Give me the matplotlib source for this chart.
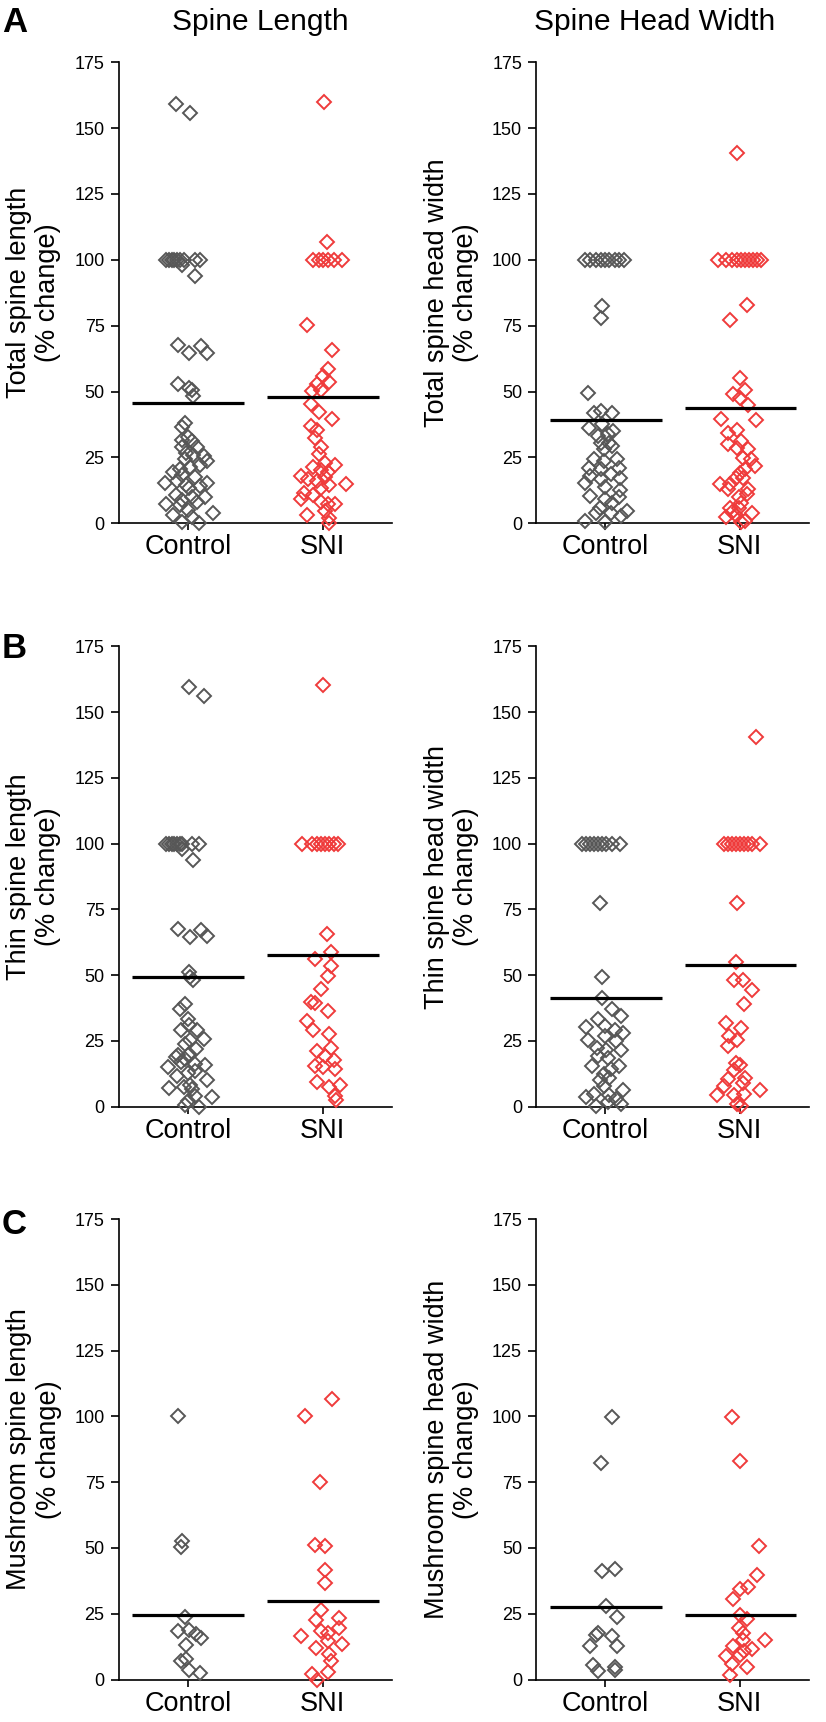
import numpy as np
import matplotlib
matplotlib.use('Agg')
import matplotlib.pyplot as plt

plt.rcParams['font.family'] = ['Liberation Sans', 'DejaVu Sans']

groups = ['Control', 'SNI']
col_titles = ['Spine Length', 'Spine Head Width']
panel_letters = ['A', 'B', 'C']
y_labels = [['Total spine length\n(% change)', 'Total spine head width\n(% change)'],
            ['Thin spine length\n(% change)', 'Thin spine head width\n(% change)'],
            ['Mushroom spine length\n(% change)', 'Mushroom spine head width\n(% change)']]
y_ticks = [0, 25, 50, 75, 100, 125, 150, 175]

# values (% change) and horizontal scatter offsets
# --- A: total spine length
tot_len_ctrl_y = [159.0, 155.6, 100, 100, 100, 100, 100, 100, 100, 100, 100, 98.0, 93.7,
                  67.5, 64.8, 67.1, 64.8, 52.8, 51.5, 50.5, 48.4, 38.0, 36.7, 32.9, 31.6,
                  31.3, 28.9, 28.9, 26.8, 25.9, 25.5, 23.5, 24.5, 19.4, 20.7, 21.4, 22.1,
                  18.3, 17.4, 15.3, 16.0, 14.6, 15.3, 13.3, 14.0, 10.6, 9.9, 9.9, 8.8, 7.9,
                  7.2, 6.8, 5.2, 3.8, 3.1, 2.4, 0.4, 0.0]
tot_len_ctrl_dx = [-0.09, 0.02, -0.16, -0.14, -0.12, -0.10, -0.08, -0.06, -0.03, 0.05, 0.09,
                   -0.04, 0.05, -0.07, 0.01, 0.10, 0.14, -0.07, 0.01, 0.03, 0.04, -0.02, -0.04,
                   0.00, -0.04, 0.03, -0.04, 0.07, -0.01, 0.04, 0.12, 0.14, -0.02, -0.11, -0.06,
                   0.02, 0.09, -0.04, 0.05, -0.17, -0.08, -0.01, 0.14, 0.01, 0.09, -0.09, 0.03,
                   0.13, -0.04, 0.07, -0.16, -0.06, 0.00, 0.19, -0.11, 0.03, -0.04, 0.08]
tot_len_sni_y = [160.1, 106.6, 100, 100, 100, 100, 100, 100, 75.2, 65.7, 58.5, 56.0, 53.5,
                 52.8, 50.3, 50.5, 45.2, 42.1, 39.5, 37.0, 35.4, 32.3, 28.9, 26.2, 22.8, 22.1,
                 21.4, 20.1, 19.4, 18.0, 16.7, 17.4, 16.0, 14.9, 14.6, 13.3, 11.3, 10.6, 9.2,
                 7.9, 7.2, 7.2, 3.1, 4.5, 1.8, 0.0]
tot_len_sni_dx = [0.01, 0.03, -0.07, -0.03, 0.00, 0.04, 0.08, 0.14, -0.12, 0.07, 0.04, 0.00,
                  0.05, -0.04, -0.08, -0.01, -0.09, -0.03, 0.07, -0.09, -0.04, -0.06, -0.01,
                  -0.03, 0.02, 0.09, -0.07, -0.01, 0.04, -0.16, -0.11, 0.02, -0.04, 0.17, 0.05,
                  -0.01, -0.14, -0.07, -0.16, -0.01, 0.09, 0.04, -0.12, 0.02, 0.05, 0.05]
tot_len_means = [45.5, 48.1]

# --- A: total spine head width
tot_wid_ctrl_y = [100, 100, 100, 100, 100, 100, 100, 100, 100, 82.3, 77.9, 49.6, 42.0, 42.6,
                  42.0, 36.3, 37.6, 35.0, 33.1, 33.8, 30.6, 30.6, 28.1, 29.3, 24.3, 23.6, 24.3,
                  21.1, 20.5, 21.1, 18.6, 17.9, 16.7, 17.3, 15.2, 13.8, 12.5, 10.4, 9.1, 9.8,
                  7.7, 5.7, 4.6, 3.7, 3.7, 2.6, 0.9, 0.3]
tot_wid_ctrl_dx = [-0.15, -0.11, -0.07, -0.03, 0.00, 0.03, 0.07, 0.10, 0.14, -0.02, -0.03,
                   -0.13, -0.08, -0.03, 0.05, -0.12, -0.02, 0.06, -0.05, 0.02, 0.03, -0.03,
                   -0.01, 0.05, -0.08, -0.01, 0.09, -0.12, -0.03, 0.10, 0.04, -0.11, -0.03,
                   0.11, -0.15, 0.00, 0.11, -0.11, 0.00, 0.10, 0.05, -0.04, 0.16, 0.04, -0.07,
                   0.12, -0.15, 0.00]
tot_wid_sni_y = [140.7, 100, 100, 100, 100, 100, 100, 100, 100, 100, 100, 82.8, 77.3, 55.3,
                 50.5, 49.0, 47.7, 44.9, 39.7, 39.1, 34.1, 35.3, 31.2, 30.0, 28.1, 28.7, 24.9,
                 24.3, 21.7, 19.2, 20.5, 17.3, 17.3, 14.8, 14.8, 12.9, 12.9, 11.1, 9.8, 7.7,
                 5.7, 5.7, 3.7, 2.3, 3.0, 4.3, 0.9, 0.3]
tot_wid_sni_dx = [-0.02, -0.16, -0.10, -0.06, -0.02, 0.01, 0.04, 0.07, 0.10, 0.13, 0.16, 0.05,
                  -0.07, 0.00, 0.04, -0.05, 0.00, 0.06, -0.14, 0.12, -0.09, -0.02, 0.01, -0.09,
                  0.06, -0.02, 0.02, 0.08, 0.11, 0.00, 0.04, 0.02, -0.03, -0.15, -0.07, -0.09,
                  0.06, 0.05, -0.01, 0.01, -0.07, -0.01, 0.09, -0.10, -0.03, -0.06, 0.04, 0.01]
tot_wid_means = [39.2, 43.9]

# --- B: thin spine length
thin_len_ctrl_y = [159.4, 156.0, 100, 100, 100, 100, 100, 100, 100, 100, 100, 98.1, 93.8,
                   67.7, 64.5, 67.3, 64.9, 51.2, 49.5, 48.2, 39.2, 37.3, 33.5, 31.0, 29.1,
                   29.1, 25.3, 25.9, 24.0, 22.1, 19.6, 20.2, 18.9, 18.3, 15.1, 15.8, 16.4,
                   17.0, 11.5, 12.9, 13.6, 10.2, 7.1, 7.5, 8.2, 3.7, 4.1, 6.8, 0.7, 0.0, 2.0]
thin_len_ctrl_dx = [0.01, 0.12, -0.16, -0.14, -0.12, -0.10, -0.08, -0.06, -0.04, 0.03, 0.08,
                    -0.04, 0.04, -0.07, 0.02, 0.10, 0.14, 0.01, 0.02, 0.04, -0.02, -0.06, 0.00,
                    0.01, -0.05, 0.07, 0.02, 0.12, -0.02, 0.06, -0.07, 0.01, -0.09, -0.02,
                    -0.15, 0.13, 0.05, -0.05, -0.08, 0.00, 0.05, 0.14, -0.14, -0.03, 0.02,
                    0.18, 0.05, 0.03, -0.02, 0.08, 0.00]
thin_len_sni_y = [160.3, 100, 100, 100, 100, 100, 100, 100, 100, 65.6, 58.8, 56.0, 53.4, 49.7,
                  44.9, 39.8, 39.5, 36.3, 32.6, 29.3, 27.8, 22.5, 21.2, 19.2, 17.9, 15.4, 15.1,
                  14.3, 9.5, 7.5, 8.2, 4.1, 2.7]
thin_len_sni_dx = [0.00, -0.15, -0.08, -0.04, -0.01, 0.02, 0.05, 0.08, 0.11, 0.03, 0.06, -0.06,
                   0.06, 0.04, -0.01, -0.09, -0.06, 0.04, -0.12, -0.07, 0.05, 0.06, -0.04, 0.02,
                   0.08, -0.06, 0.00, 0.09, -0.04, 0.05, 0.13, 0.09, 0.10]
thin_len_means = [49.3, 57.6]

# --- B: thin spine head width
thin_wid_ctrl_y = [100, 100, 100, 100, 100, 100, 100, 100, 100, 77.3, 49.5, 41.3, 37.1, 34.6,
                   33.3, 30.3, 30.5, 29.3, 28.2, 25.5, 27.0, 24.8, 22.3, 21.7, 21.7, 15.3, 19.1,
                   18.5, 15.3, 12.5, 14.5, 10.0, 11.1, 7.7, 6.4, 5.0, 3.7, 4.6, 3.0, 0.3, 1.6,
                   0.9]
thin_wid_ctrl_dx = [-0.17, -0.14, -0.11, -0.08, -0.05, -0.02, 0.01, 0.05, 0.11, -0.04, -0.02,
                    -0.02, 0.05, 0.12, -0.05, -0.14, 0.00, 0.07, 0.13, -0.13, 0.00, 0.08,
                    -0.06, 0.01, 0.12, -0.10, -0.05, 0.02, 0.10, -0.01, 0.04, -0.04, 0.03,
                    -0.01, 0.13, -0.08, -0.14, 0.03, 0.08, -0.07, 0.02, 0.12]
thin_wid_sni_y = [140.7, 100, 100, 100, 100, 100, 100, 100, 100, 100, 77.3, 55.2, 48.3, 48.3,
                  44.5, 39.1, 31.8, 29.9, 27.0, 25.5, 22.9, 16.8, 16.0, 14.1, 11.1, 10.4, 9.1,
                  7.7, 6.4, 4.3, 4.3, 5.0, 0.9, 0.3]
thin_wid_sni_dx = [0.12, -0.12, -0.09, -0.06, -0.03, 0.00, 0.03, 0.06, 0.09, 0.15, -0.02,
                   -0.03, -0.04, 0.02, 0.09, 0.03, -0.10, 0.01, -0.08, -0.02, -0.09, -0.03,
                   0.00, -0.04, 0.04, -0.09, 0.02, -0.12, 0.15, -0.17, -0.04, 0.03, -0.02,
                   0.01]
thin_wid_means = [41.3, 54.0]

# --- C: mushroom spine length
mush_len_ctrl_y = [100.0, 52.7, 50.2, 23.6, 18.4, 18.7, 17.3, 15.9, 13.2, 7.9, 6.9, 3.5, 2.4]
mush_len_ctrl_dx = [-0.07, -0.04, -0.05, -0.02, -0.07, 0.01, 0.06, 0.10, -0.01, -0.01, -0.05,
                    0.01, 0.09]
mush_len_sni_y = [100.0, 106.7, 75.2, 51.3, 50.6, 41.6, 36.7, 26.3, 22.6, 23.3, 18.4, 17.6,
                  19.4, 16.6, 14.8, 13.4, 11.8, 9.7, 7.2, 2.1, 2.8, 0.0]
mush_len_sni_dx = [-0.13, 0.07, -0.02, -0.06, 0.02, 0.02, 0.02, -0.01, -0.05, 0.12, -0.01,
                   0.04, 0.12, -0.16, 0.04, 0.14, -0.05, 0.05, 0.06, -0.08, 0.04, -0.04]
mush_len_means = [24.7, 29.8]

# --- C: mushroom spine head width
mush_wid_ctrl_y = [99.9, 82.4, 41.3, 42.0, 27.9, 23.6, 17.0, 17.7, 16.6, 12.9, 12.9, 5.5, 4.8,
                   3.2, 3.6]
mush_wid_ctrl_dx = [0.05, -0.03, -0.02, 0.07, 0.01, 0.09, -0.07, -0.05, 0.05, -0.11, 0.09,
                    -0.09, 0.07, -0.05, 0.07]
mush_wid_sni_y = [99.9, 82.9, 50.6, 39.9, 34.4, 35.1, 30.5, 24.7, 23.0, 19.4, 17.5, 15.0, 15.0,
                  12.9, 11.5, 10.8, 9.1, 9.4, 6.0, 4.6, 1.8]
mush_wid_sni_dx = [-0.06, 0.00, 0.14, 0.13, 0.00, 0.06, -0.05, 0.00, 0.05, -0.01, 0.02, 0.19,
                   0.02, -0.05, 0.09, 0.03, -0.10, 0.00, -0.06, 0.05, -0.07]
mush_wid_means = [27.4, 24.4]

panels = [[(tot_len_ctrl_y, tot_len_ctrl_dx, tot_len_sni_y, tot_len_sni_dx, tot_len_means),
           (tot_wid_ctrl_y, tot_wid_ctrl_dx, tot_wid_sni_y, tot_wid_sni_dx, tot_wid_means)],
          [(thin_len_ctrl_y, thin_len_ctrl_dx, thin_len_sni_y, thin_len_sni_dx, thin_len_means),
           (thin_wid_ctrl_y, thin_wid_ctrl_dx, thin_wid_sni_y, thin_wid_sni_dx, thin_wid_means)],
          [(mush_len_ctrl_y, mush_len_ctrl_dx, mush_len_sni_y, mush_len_sni_dx, mush_len_means),
           (mush_wid_ctrl_y, mush_wid_ctrl_dx, mush_wid_sni_y, mush_wid_sni_dx, mush_wid_means)]]

colors = ['#575757', '#ef3b3b']

W, H = 826.0, 1722.0
fig = plt.figure(figsize=(W / 100, H / 100), dpi=100)

# axes boxes in pixels: (left, right) per column, (top, bottom) per row
col_px = [(118.5, 392.0), (536.0, 809.0)]
row_px = [(62.3, 523.2), (646.4, 1106.7), (1219.0, 1679.5)]

for r in range(3):
    for c in range(2):
        x0, x1 = col_px[c]
        t, b = row_px[r]
        ax = fig.add_axes([x0 / W, 1 - b / H, (x1 - x0) / W, (b - t) / H])
        ctrl_y, ctrl_dx, sni_y, sni_dx, means = panels[r][c]
        for i, (vals, offs) in enumerate([(ctrl_y, ctrl_dx), (sni_y, sni_dx)]):
            ax.plot(i + 1 + np.array(offs), vals, ls='none', marker='D', ms=7.4,
                    mfc='none', mec=colors[i], mew=1.4, clip_on=False, zorder=3)
            ax.hlines(means[i], i + 1 - 0.41, i + 1 + 0.42, color='black', lw=2.3, zorder=4)

        ax.set_xlim(0.487, 2.513)
        ax.set_ylim(0, 175)
        ax.set_yticks(y_ticks)
        ax.set_xticks([1, 2])
        ax.set_xticklabels(groups)
        for s in ['top', 'right']:
            ax.spines[s].set_visible(False)
        for s in ['left', 'bottom']:
            ax.spines[s].set_linewidth(1.2)
        ax.tick_params(axis='y', length=6, width=1.2, pad=4, labelsize=13)
        ax.tick_params(axis='x', length=5, width=1.2, pad=3, labelsize=19.5)
        ax.set_ylabel(y_labels[r][c], fontsize=19.5, linespacing=1.15)
        ax.yaxis.set_label_coords(-57.0 / (x1 - x0), 0.5)

# column titles and panel letters
fig.text(260 / W, 1 - 29.5 / H, col_titles[0], ha='center', va='baseline', fontsize=21.5)
fig.text(655 / W, 1 - 29.5 / H, col_titles[1], ha='center', va='baseline', fontsize=21.5)
for letter, yb in zip(panel_letters, [32, 658, 1234]):
    fig.text(2 / W, 1 - yb / H, letter, ha='left', va='baseline', fontsize=25,
             fontweight='bold')

fig.savefig('out.png', dpi=100)
